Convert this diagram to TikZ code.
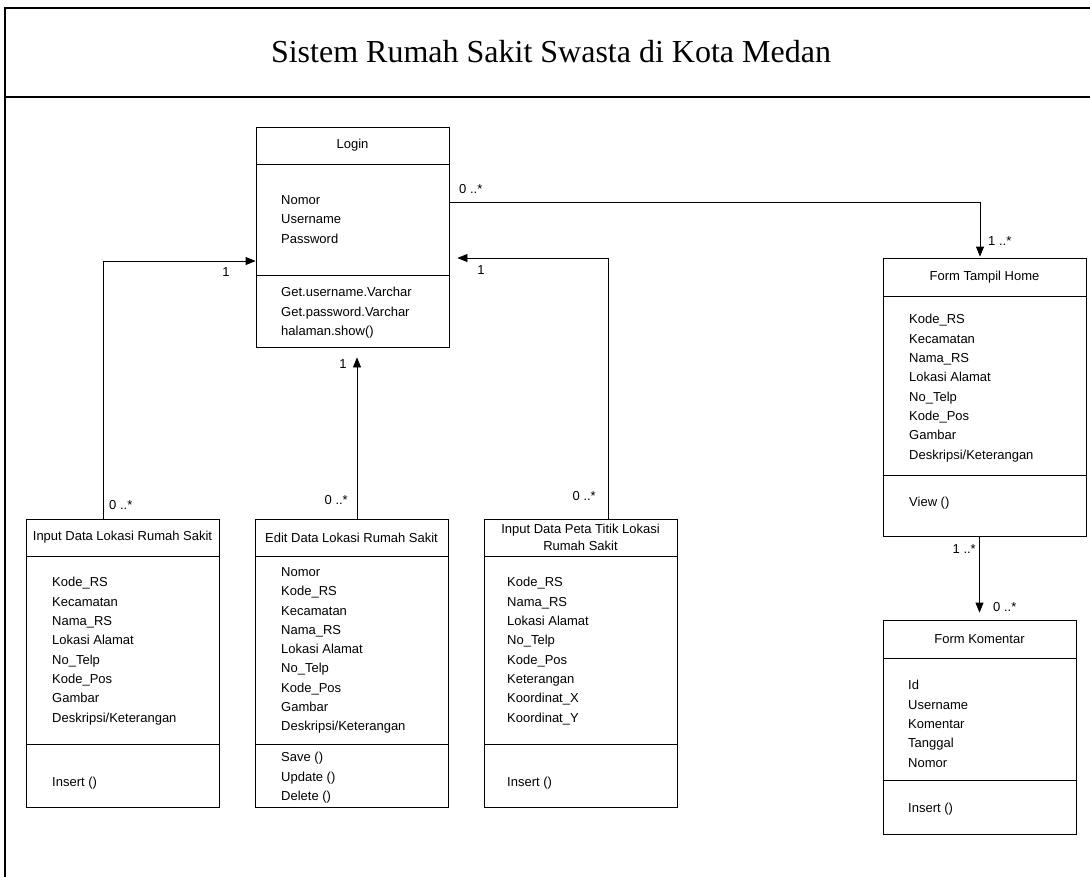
\documentclass[tikz,border=0pt]{standalone}
\usepackage{fontspec}
\setmainfont{Liberation Sans}
\newfontfamily\titlefont{Liberation Serif}
\usetikzlibrary{arrows.meta}

\begin{document}
\begin{tikzpicture}[x=1pt,y=-1pt,
  frame/.style={line width=1.8pt},
  classbox/.style={draw, line width=0.8pt, inner sep=0pt},
  part/.style={line width=0.8pt},
  cname/.style={font=\fontsize{13}{17}\selectfont, align=center, inner sep=0pt},
  members/.style={font=\fontsize{13}{19.3}\selectfont, align=left, anchor=north west, inner sep=0pt},
  mult/.style={font=\fontsize{13}{15}\selectfont, inner sep=0pt},
  assoc/.style={line width=0.8pt, -{Triangle[length=10pt,width=8pt]}}
]
\useasboundingbox (0,0) rectangle (1090,876);
\clip (0,0) rectangle (1090,876);

% outer frame with title band
\draw[frame] (1100,8) -- (5,8) -- (5,890);
\draw[frame] (5,97) -- (1100,97);
\node[font=\titlefont\fontsize{32}{36}\selectfont] (title) at (551,52) {Sistem Rumah Sakit Swasta di Kota Medan};

% ---------------- Login ----------------
\node[classbox, minimum width=193pt, minimum height=220pt] (login) at (352.5,237) {};
\draw[part] (256,164) -- (449,164);
\draw[part] (256,275) -- (449,275);
\node[cname] (loginT) at (352.5,145.5) {Login};
\node[members] (loginA) at (281,195.3) {Nomor\\Username\\Password};
\node[members] (loginM) at (281,287.3) {Get.username.Varchar\\Get.password.Varchar\\halaman.show()};

% ---------------- Form Tampil Home ----------------
\node[classbox, minimum width=203pt, minimum height=278pt] (home) at (984.5,397) {};
\draw[part] (883,296) -- (1086,296);
\draw[part] (883,475) -- (1086,475);
\node[cname] (homeT) at (984.5,277) {Form Tampil Home};
\node[members] (homeA) at (909,314.3) {Kode\_RS\\Kecamatan\\Nama\_RS\\Lokasi Alamat\\No\_Telp\\Kode\_Pos\\Gambar\\Deskripsi/Keterangan};
\node[members] (homeM) at (909,497.3) {View ()};

% ---------------- Form Komentar ----------------
\node[classbox, minimum width=193pt, minimum height=214pt] (komentar) at (979.5,727) {};
\draw[part] (883,658) -- (1076,658);
\draw[part] (883,780) -- (1076,780);
\node[cname] (komentarT) at (979.5,639) {Form Komentar};
\node[members] (komentarA) at (908,680.3) {Id\\Username\\Komentar\\Tanggal\\Nomor};
\node[members] (komentarM) at (908,803.3) {Insert ()};

% ---------------- Input Data Lokasi Rumah Sakit ----------------
\node[classbox, minimum width=193pt, minimum height=288pt] (inlok) at (122.5,663) {};
\draw[part] (26,556) -- (219,556);
\draw[part] (26,744) -- (219,744);
\node[cname] (inlokT) at (122.5,537.5) {Input Data Lokasi Rumah Sakit};
\node[members] (inlokA) at (52,577.3) {Kode\_RS\\Kecamatan\\Nama\_RS\\Lokasi Alamat\\No\_Telp\\Kode\_Pos\\Gambar\\Deskripsi/Keterangan};
\node[members] (inlokM) at (52,777.3) {Insert ()};

% ---------------- Edit Data Lokasi Rumah Sakit ----------------
\node[classbox, minimum width=193pt, minimum height=288pt] (edit) at (351.5,663) {};
\draw[part] (255,556) -- (448,556);
\draw[part] (255,744) -- (448,744);
\node[cname] (editT) at (351.5,537.5) {Edit Data Lokasi Rumah Sakit};
\node[members] (editA) at (281,567.3) {Nomor\\Kode\_RS\\Kecamatan\\Nama\_RS\\Lokasi Alamat\\No\_Telp\\Kode\_Pos\\Gambar\\Deskripsi/Keterangan};
\node[members] (editM) at (281,752.3) {Save ()\\Update ()\\Delete ()};

% ---------------- Input Data Peta Titik Lokasi Rumah Sakit ----------------
\node[classbox, minimum width=193pt, minimum height=288pt] (peta) at (580.5,663) {};
\draw[part] (484,556) -- (677,556);
\draw[part] (484,744) -- (677,744);
\node[cname] (petaT) at (580.5,537.5) {Input Data Peta Titik Lokasi\\Rumah Sakit};
\node[members] (petaA) at (507,577.3) {Kode\_RS\\Nama\_RS\\Lokasi Alamat\\No\_Telp\\Kode\_Pos\\Keterangan\\Koordinat\_X\\Koordinat\_Y};
\node[members] (petaM) at (507,777.3) {Insert ()};

% ---------------- associations ----------------
\draw[assoc, shorten >=1pt] ([yshift=35pt]login.east) -| ([xshift=-4.5pt]home.north);
\node[mult, anchor=west] (m1) at (459,189) {0 ..*};
\node[mult, anchor=west] (m2) at (988,241) {1 ..*};

\draw[assoc] ([xshift=-19.5pt]inlok.north) |- ([yshift=-24pt]login.west);
\node[mult] (m3) at (226,272) {1};
\node[mult, anchor=west] (m4) at (109,505) {0 ..*};

\draw[assoc, shorten >=10pt] ([xshift=5.5pt]edit.north) -- ([xshift=5.5pt]edit.north |- login.south);
\node[mult] (m5) at (343,364) {1};
\node[mult, anchor=east] (m6) at (348,500) {0 ..*};

\draw[assoc, shorten >=8pt] ([xshift=27.5pt]peta.north) |- ([yshift=-21pt]login.east);
\node[mult] (m7) at (481,270) {1};
\node[mult, anchor=east] (m8) at (596,496) {0 ..*};

\draw[assoc, shorten >=7pt] (home.south -| komentar.north) -- (komentar.north);
\node[mult, anchor=east] (m9) at (976,549) {1 ..*};
\node[mult, anchor=west] (m10) at (993,607) {0 ..*};
\end{tikzpicture}
\end{document}
